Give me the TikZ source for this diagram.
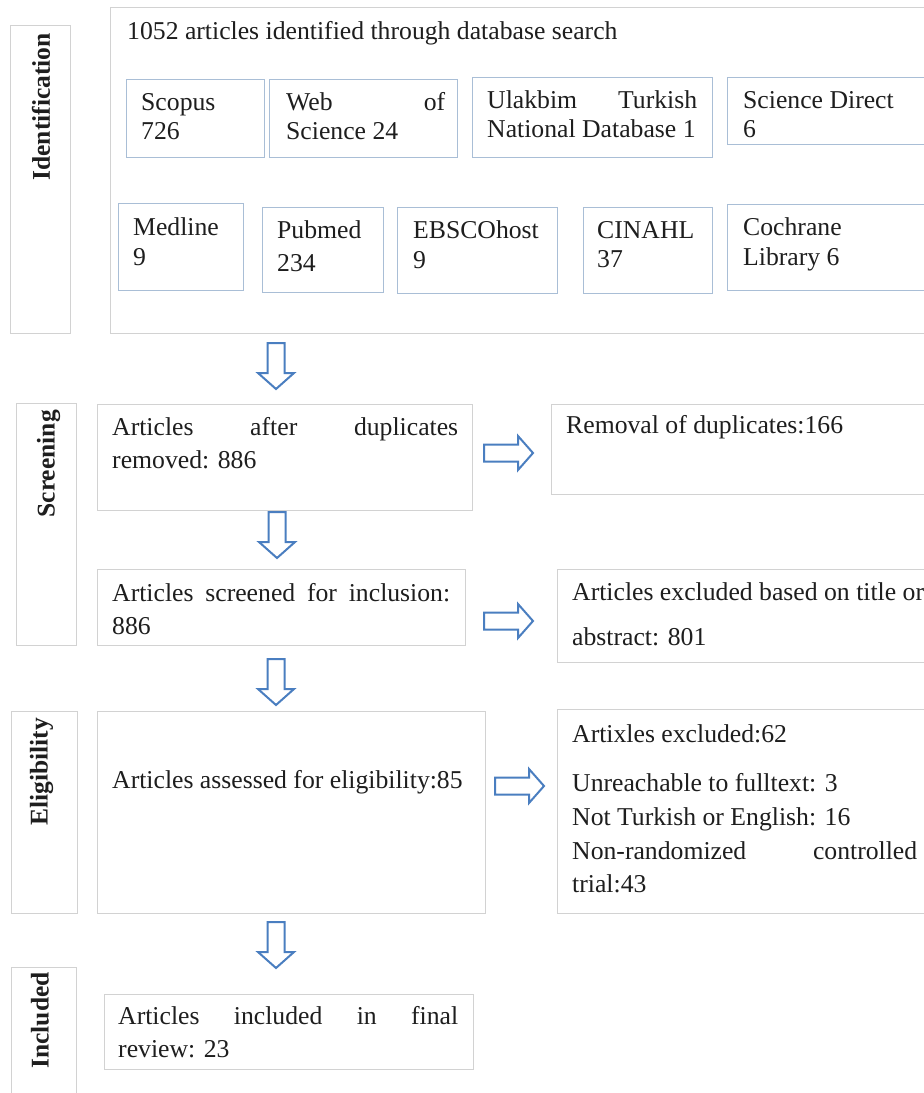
\documentclass[tikz,border=0pt]{standalone}
\usepackage{fontspec}
\setmainfont{Liberation Serif}
\definecolor{boxgray}{HTML}{D2D2D2}
\definecolor{dbblue}{HTML}{A9BED6}
\definecolor{arrblue}{HTML}{4A7EC0}
\definecolor{txtcol}{HTML}{1E1E1E}
\tikzset{
  grbox/.style={draw=boxgray, line width=1.4pt, fill=none, inner sep=0pt, anchor=north west},
  dbbox/.style={draw=dbblue, line width=1.4pt, fill=none, inner sep=0pt, anchor=north west},
  txt/.style={inner sep=0pt, anchor=base west, text width=#1, text=txtcol,
    font=\fontsize{25.7}{33.5}\selectfont,
    execute at begin node={\spaceskip=0pt\relax\xspaceskip=0pt\relax}},
  txt/.default=600pt,
  dbtxt/.style={txt=#1, font=\fontsize{25.7}{29}\selectfont},
  dbtxt/.default=300pt,
  lbl/.style={inner sep=0pt, rotate=90, anchor=east, text=txtcol,
    font=\fontsize{25.5}{29}\selectfont\bfseries},
  arr/.style={draw=arrblue, line width=2pt, fill=white, line join=miter},
  darr/.pic={\draw[arr] (-8.5,0) -- (8.5,0) -- (8.5,-30) -- (18,-30) -- (0,-46)
     -- (-18,-30) -- (-8.5,-30) -- cycle;},
  rarr/.pic={\draw[arr] (0,8.5) -- (34,8.5) -- (34,17) -- (49,0) -- (34,-17)
     -- (34,-8.5) -- (0,-8.5) -- cycle;}
}
\newcommand\jline[2]{\makebox[#1][s]{#2}}
\begin{document}
\begin{tikzpicture}[x=1pt,y=1pt]
\useasboundingbox (0,0) rectangle (924,-1093);
\fill[white] (0,0) rectangle (924,-1093);
\clip (0,0) rectangle (924,-1093);

% ---------------- Identification ----------------
\node[grbox, minimum width=60pt, minimum height=308pt] (identlbl) at (10,-25) {};
\node[lbl] (identtxt) at (41,-33) {Identification};
\node[grbox, minimum width=840pt, minimum height=326pt] (identbox) at (110,-7) {};
\node[txt] (title) at (127,-39) {1052 articles identified through database search};

\node[dbbox, minimum width=138pt, minimum height=78pt] (scopus) at (126,-79) {};
\node[dbtxt] (scopust) at (141,-110) {Scopus\\726};
\node[dbbox, minimum width=188pt, minimum height=78pt] (wos) at (269,-79) {};
\node[dbtxt=159pt] (wost) at (286,-110) {\jline{159pt}{Web of}\\Science 24};
\node[dbbox, minimum width=240pt, minimum height=80pt] (ulak) at (472,-77) {};
\node[dbtxt=240pt] (ulakt) at (487,-108) {\jline{210pt}{Ulakbim Turkish}\\National Database 1};
\node[dbbox, minimum width=200pt, minimum height=67pt] (scidir) at (727,-77) {};
\node[dbtxt] (scidirt) at (743,-108) {Science Direct\\6};

\node[dbbox, minimum width=125pt, minimum height=87pt] (medline) at (118,-203) {};
\node[dbtxt] (medlinet) at (133,-235) {Medline\\[1pt]9};
\node[dbbox, minimum width=121pt, minimum height=85pt] (pubmed) at (262,-207) {};
\node[dbtxt] (pubmedt) at (277,-238) {Pubmed\\[4pt]234};
\node[dbbox, minimum width=160pt, minimum height=86pt] (ebsco) at (397,-207) {};
\node[dbtxt] (ebscot) at (413,-238) {EBSCOhost\\[1pt]9};
\node[dbbox, minimum width=129pt, minimum height=86pt] (cinahl) at (583,-207) {};
\node[dbtxt] (cinahlt) at (597,-238) {CINAHL\\37};
\node[dbbox, minimum width=200pt, minimum height=86pt] (cochrane) at (727,-204) {};
\node[dbtxt] (cochranet) at (743,-235) {Cochrane\\[1pt]Library 6};

\pic at (276,-343) {darr};

% ---------------- Screening ----------------
\node[grbox, minimum width=60pt, minimum height=242pt] (scrlbl) at (16,-403) {};
\node[lbl] (scrtxt) at (48.5,-410) {Screening};
\node[grbox, minimum width=375pt, minimum height=106pt] (afterdup) at (97,-404) {};
\node[txt=346pt] (afterdupt) at (112,-435) {\jline{346pt}{Articles after duplicates}\\removed: 886};
\node[grbox, minimum width=390pt, minimum height=90pt] (removal) at (551,-404) {};
\node[txt] (removalt) at (566,-433) {Removal of duplicates:166};
\pic at (484,-453) {rarr};

\pic at (277,-512) {darr};

\node[grbox, minimum width=368pt, minimum height=76pt] (screened) at (97,-569) {};
\node[txt=338pt] (screenedt) at (112,-601) {\jline{338pt}{Articles screened for inclusion:}\\886};
\node[grbox, minimum width=384pt, minimum height=93pt] (exctitle) at (557,-569) {};
\node[txt=440pt] (exctitlet) at (572,-600) {Articles excluded based on title or\\[11.5pt]abstract: 801};
\pic at (484,-621) {rarr};

\pic at (276,-659) {darr};

% ---------------- Eligibility ----------------
\node[grbox, minimum width=66pt, minimum height=202pt] (elglbl) at (11,-711) {};
\node[lbl] (elgtxt) at (41.5,-718) {Eligibility};
\node[grbox, minimum width=388pt, minimum height=202pt] (assessed) at (97,-711) {};
\node[txt] (assessedt) at (112,-788) {Articles assessed for eligibility:85};
\node[grbox, minimum width=384pt, minimum height=204pt] (artixles) at (557,-709) {};
\node[txt=345pt, font=\fontsize{25.7}{33.7}\selectfont] (artixlest) at (572,-742)
  {Artixles excluded:62\\[16pt]Unreachable to fulltext: 3\\Not Turkish or English: 16\\\jline{345pt}{Non-randomized controlled}\\trial:43};
\pic at (495,-786) {rarr};

\pic at (276,-922) {darr};

% ---------------- Included ----------------
\node[grbox, minimum width=65pt, minimum height=150pt] (inclbl) at (11,-967) {};
\node[lbl] (incltxt) at (40,-972) {Included};
\node[grbox, minimum width=369pt, minimum height=75pt] (included) at (104,-994) {};
\node[txt=340pt] (includedt) at (118,-1024) {\jline{340pt}{Articles included in final}\\review: 23};
\end{tikzpicture}
\end{document}
